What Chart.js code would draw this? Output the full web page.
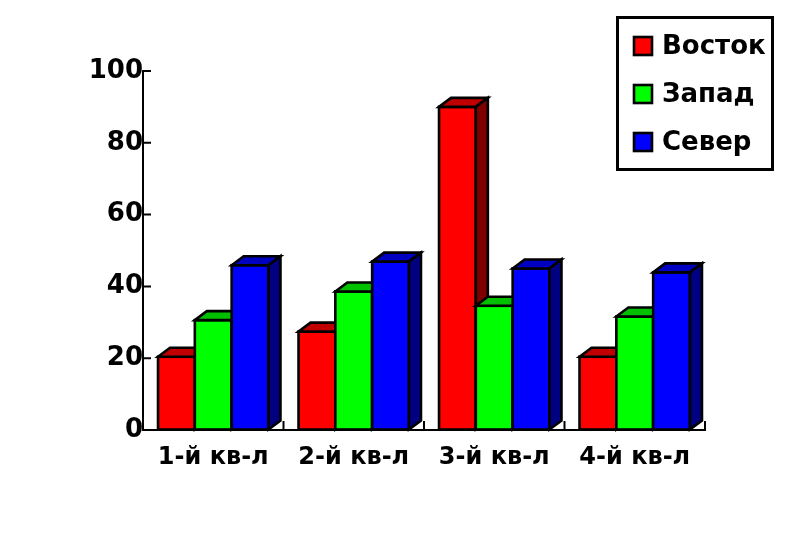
<!DOCTYPE html>
<html lang="ru">
<head>
  <meta charset="utf-8">
  <title>Продажи по кварталам</title>
  <script src="https://cdn.jsdelivr.net/npm/chart.js"></script>
  <style>
    html, body { margin: 0; padding: 0; background: #fff; }
    #wrap { width: 800px; height: 537px; }
  </style>
</head>
<body>
<div id="wrap"><canvas id="chart" width="800" height="537"></canvas></div>
<script>
  const quarters = ['1-й кв-л', '2-й кв-л', '3-й кв-л', '4-й кв-л'];
  const east = [20.4, 27.4, 90, 20.4];
  const west = [30.6, 38.6, 34.6, 31.6];
  const north = [45.9, 46.9, 45, 43.9];
  const yTicks = [0, 20, 40, 60, 80, 100];

  const front = ['#ff0000', '#00ff00', '#0000ff'];
  const top3d = ['#c00000', '#00c000', '#0000c0'];
  const side3d = ['#800000', '#008000', '#000080'];
  const DX = 12, DY = 9;

  // объёмные столбцы: Chart.js рисует наборы в обратном порядке,
  // поэтому перерисовываем всё сами слева направо
  const box3d = {
    id: 'box3d',
    afterDatasetsDraw(chart) {
      const ctx = chart.ctx;
      ctx.save();
      ctx.lineWidth = 2.6;
      ctx.strokeStyle = '#000';
      ctx.lineJoin = 'miter';
      for (let c = 0; c < quarters.length; c++) {
        chart.data.datasets.forEach((ds, i) => {
          const el = chart.getDatasetMeta(i).data[c];
          const p = el.getProps(['x', 'y', 'base', 'width'], true);
          const l = p.x - p.width / 2, r = p.x + p.width / 2;
          ctx.fillStyle = front[i];
          ctx.fillRect(l, p.y, r - l, p.base - p.y);
          ctx.strokeRect(l, p.y, r - l, p.base - p.y);
          ctx.beginPath();
          ctx.moveTo(l, p.y);
          ctx.lineTo(l + DX, p.y - DY);
          ctx.lineTo(r + DX, p.y - DY);
          ctx.lineTo(r, p.y);
          ctx.closePath();
          ctx.fillStyle = top3d[i];
          ctx.fill();
          ctx.stroke();
          ctx.beginPath();
          ctx.moveTo(r, p.y);
          ctx.lineTo(r + DX, p.y - DY);
          ctx.lineTo(r + DX, p.base - DY);
          ctx.lineTo(r, p.base);
          ctx.closePath();
          ctx.fillStyle = side3d[i];
          ctx.fill();
          ctx.stroke();
        });
      }
      ctx.restore();
    },
    beforeDatasetsDraw(chart) {
      const ctx = chart.ctx;
      const ys = chart.scales.y;
      const area = chart.chartArea;
      ctx.save();
      ctx.strokeStyle = '#000';
      ctx.lineWidth = 2;
      ctx.beginPath();
      yTicks.forEach(v => {
        const py = ys.getPixelForValue(v);
        ctx.moveTo(area.left, py);
        ctx.lineTo(area.left + 8, py);
      });
      const step = (area.right - area.left) / quarters.length;
      for (let k = 1; k <= quarters.length; k++) {
        const px = area.left + step * k;
        ctx.moveTo(px, area.bottom);
        ctx.lineTo(px, area.bottom - 9);
      }
      ctx.stroke();
      ctx.restore();
    }
  };

  const boxLegend = {
    id: 'boxLegend',
    afterDraw(chart) {
      const ctx = chart.ctx;
      ctx.save();
      ctx.lineWidth = 3;
      ctx.strokeStyle = '#000';
      ctx.strokeRect(617.5, 17.5, 155, 152);
      ctx.font = 'bold 26px "DejaVu Sans"';
      ctx.textBaseline = 'middle';
      ctx.textAlign = 'left';
      chart.data.datasets.forEach((ds, i) => {
        const cy = 46 + i * 48;
        ctx.fillStyle = front[i];
        ctx.fillRect(634, cy - 9, 18, 18);
        ctx.lineWidth = 2.6;
        ctx.strokeRect(634, cy - 9, 18, 18);
        ctx.fillStyle = '#000';
        ctx.fillText(ds.label, 662, cy + 1);
      });
      ctx.restore();
    }
  };

  const ctx = document.getElementById('chart').getContext('2d');
  new Chart(ctx, {
    type: 'bar',
    data: {
      labels: quarters,
      datasets: [
        { label: 'Восток', data: east, backgroundColor: front[0] },
        { label: 'Запад', data: west, backgroundColor: front[1] },
        { label: 'Север', data: north, backgroundColor: front[2] }
      ]
    },
    options: {
      responsive: false,
      animation: false,
      layout: { padding: { top: 71, right: 95, left: 0, bottom: 0 } },
      datasets: {
        bar: {
          categoryPercentage: 0.786,
          barPercentage: 1,
          borderWidth: 0
        }
      },
      plugins: {
        legend: { display: false },
        tooltip: { enabled: false }
      },
      scales: {
        x: {
          grid: { display: false, drawTicks: false },
          border: { display: true, color: '#000', width: 2 },
          ticks: { color: '#000', padding: 13, font: { family: 'DejaVu Sans', size: 24, weight: 'bold' } },
          afterFit(scale) { scale.height = 107; }
        },
        y: {
          min: 0,
          max: 100,
          grid: { drawOnChartArea: false, drawTicks: false },
          border: { display: true, color: '#000', width: 2 },
          ticks: { stepSize: 20, color: '#000', padding: 0, font: { family: 'DejaVu Sans', size: 26, weight: 'bold' } },
          afterFit(scale) { scale.width = 143; }
        }
      }
    },
    plugins: [box3d, boxLegend]
  });
</script>
</body>
</html>
